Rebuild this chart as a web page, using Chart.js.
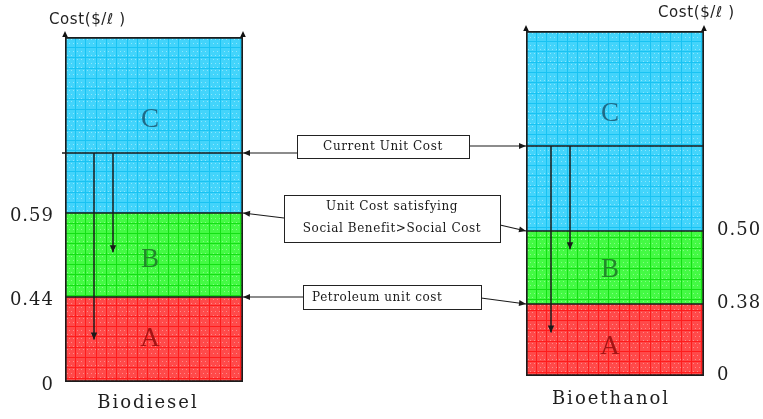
<!DOCTYPE html>
<html>
<head>
<meta charset="utf-8">
<script src="https://cdn.jsdelivr.net/npm/chart.js@4.4.1/dist/chart.umd.min.js"></script>
<style>
  html, body { margin: 0; padding: 0; background: #ffffff; }
  #wrap { position: relative; width: 763px; height: 419px; overflow: hidden; }
  #wrap canvas { position: absolute; left: 0; top: 0; }
</style>
</head>
<body>
<div id="wrap">
  <canvas id="biodiesel" width="763" height="419"></canvas>
  <canvas id="bioethanol" width="763" height="419"></canvas>
</div>
<script>
// ---- Unit cost levels, $ per litre ----
const fuels = ['Biodiesel', 'Bioethanol'];
const petroleumUnitCost = [0.44, 0.38];   // top of segment A
const breakEvenUnitCost = [0.59, 0.50];   // top of segment B (social benefit > social cost)
const currentUnitCost   = [0.90, 0.80];   // current production unit cost (unlabelled)
const axisTopCost       = [1.20, 1.10];   // top of each cost axis
const tickLabelsBiodiesel  = ['0', '0.44', '0.59'];
const tickLabelsBioethanol = ['0', '0.38', '0.50'];
const segmentNames = ['A', 'B', 'C'];
const calloutTexts = [
  ['Current Unit Cost'],
  ['Unit Cost satisfying', 'Social Benefit>Social Cost'],
  ['Petroleum unit cost']
];

// Linear axis whose spacing is stretched piecewise between given levels,
// so a schematic (not-to-scale) cost ladder can still be drawn from values.
class SteppedLinearScale extends Chart.LinearScale {
  _decimalOf(v) {
    const lv = this.options.levels, fr = this.options.fractions;
    if (v <= lv[0]) return fr[0];
    for (let i = 1; i < lv.length; i++) {
      if (v <= lv[i]) {
        return fr[i - 1] + (v - lv[i - 1]) / (lv[i] - lv[i - 1]) * (fr[i] - fr[i - 1]);
      }
    }
    return fr[fr.length - 1];
  }
  getPixelForValue(value) {
    if (value === null || value === undefined || Number.isNaN(+value)) return NaN;
    return this.getPixelForDecimal(this._decimalOf(+value));
  }
  getValueForPixel(pixel) {
    const d = this.getDecimalForPixel(pixel);
    const lv = this.options.levels, fr = this.options.fractions;
    for (let i = 1; i < fr.length; i++) {
      if (d <= fr[i]) return lv[i - 1] + (d - fr[i - 1]) / (fr[i] - fr[i - 1]) * (lv[i] - lv[i - 1]);
    }
    return lv[lv.length - 1];
  }
  drawLabels(area) {
    const ctx = this.ctx;
    const prev = ctx.letterSpacing;
    ctx.letterSpacing = '1px';
    super.drawLabels(area);
    ctx.letterSpacing = prev;
  }
}
SteppedLinearScale.id = 'stepped';
SteppedLinearScale.defaults = {};
Chart.register(SteppedLinearScale);

// Squared grid-paper fill for the bar segments
function gridPattern(fill, line, dot) {
  const c = document.createElement('canvas');
  c.width = 31; c.height = 31;
  const g = c.getContext('2d');
  g.fillStyle = fill;
  g.fillRect(0, 0, 31, 31);
  g.fillStyle = dot;
  for (let y = 2; y < 31; y += 4) {
    for (let x = (y % 8 === 2 ? 2 : 4); x < 31; x += 4) g.fillRect(x, y, 1, 1);
  }
  g.fillStyle = line;
  [0, 10, 20].forEach(p => { g.fillRect(p, 0, 1, 31); g.fillRect(0, p, 31, 1); });
  return g.createPattern(c, 'repeat');
}
const palette = [
  { fill: '#ff4a4a', line: '#ff1c1c', dot: 'rgba(255,190,190,0.55)', text: '#a51414' },
  { fill: '#44fa44', line: '#14e014', dot: 'rgba(190,255,190,0.55)', text: '#22882a' },
  { fill: '#43d4fb', line: '#18c3f3', dot: 'rgba(200,245,255,0.55)', text: '#1f6b88' }
];

function arrowHead(ctx, x, y, angle, len, half) {
  ctx.save();
  ctx.translate(x, y);
  ctx.rotate(angle);
  ctx.beginPath();
  ctx.moveTo(0, 0);
  ctx.lineTo(-len, -half);
  ctx.lineTo(-len, half);
  ctx.closePath();
  ctx.fill();
  ctx.restore();
}
function arrow(ctx, x1, y1, x2, y2, len, half) {
  ctx.beginPath();
  ctx.moveTo(x1, y1);
  ctx.lineTo(x2, y2);
  ctx.stroke();
  arrowHead(ctx, x2, y2, Math.atan2(y2 - y1, x2 - x1), len, half);
}

// Current-cost line, reduction arrows, segment letters, axis arrows and unit label
const costDiagram = {
  id: 'costDiagram',
  beforeDraw(chart) {
    chart.ctx.letterSpacing = '2px';
  },
  beforeDatasetsDraw(chart) {
    const a = chart.chartArea;
    chart.data.datasets.forEach(ds => {
      if (ds.backgroundColor && ds.backgroundColor.setTransform) {
        ds.backgroundColor.setTransform(new DOMMatrix([1, 0, 0, 1, a.left, a.top]));
      }
    });
  },
  afterDatasetsDraw(chart, args, opts) {
    const ctx = chart.ctx, a = chart.chartArea, y = chart.scales.y;
    const f = opts.fuel;
    ctx.save();
    ctx.letterSpacing = '0px';
    ctx.strokeStyle = '#1a1a1a';
    ctx.fillStyle = '#1a1a1a';

    // current unit cost level
    const yc = y.getPixelForValue(currentUnitCost[f]);
    ctx.lineWidth = 1.6;
    ctx.beginPath();
    ctx.moveTo(a.left - opts.lineExtend, yc);
    ctx.lineTo(a.right, yc);
    ctx.stroke();

    // cost reduction arrows dropping from the current level
    ctx.lineWidth = 1.5;
    opts.drops.forEach(d => {
      const x = a.left + d.dx;
      arrow(ctx, x, yc, x, y.getPixelForValue(d.to), 7, 3.2);
    });

    // segment letters
    ctx.textAlign = 'center';
    ctx.textBaseline = 'middle';
    ctx.font = '27px "Liberation Serif"';
    segmentNames.forEach((name, k) => {
      const el = chart.getDatasetMeta(k).data[0];
      const n = opts.letterNudge[k];
      ctx.fillStyle = palette[k].text;
      ctx.fillText(name, el.x + n[0], (el.y + el.base) / 2 + n[1]);
    });

    // upward arrowheads on the two vertical edges
    ctx.fillStyle = '#111';
    [a.left, a.right].forEach(x => arrowHead(ctx, x, a.top - 6, -Math.PI / 2, 6, 2.8));

    // unit label
    ctx.fillStyle = '#222';
    ctx.textAlign = 'left';
    ctx.font = '15px "DejaVu Sans"';
    ctx.letterSpacing = '0.6px';
    ctx.fillText('Cost($/\u2113 )', a.left + opts.titleDx, a.top + opts.titleDy);
    ctx.restore();
  }
};

function makeChart(id, f, cfg) {
  const pats = palette.map(p => gridPattern(p.fill, p.line, p.dot));
  const bounds = [0, petroleumUnitCost[f], breakEvenUnitCost[f], axisTopCost[f]];
  const borders = [
    { left: 2, right: 2, bottom: 2, top: 1 },
    { left: 2, right: 2, bottom: 1, top: 1 },
    { left: 2, right: 2, bottom: 1, top: 2 }
  ];
  const tickLabels = cfg.tickLabels;
  const pluginOpts = {
    legend: { display: false },
    tooltip: { enabled: false },
    costDiagram: cfg.diagram
  };
  if (cfg.callouts) pluginOpts.costCallouts = cfg.callouts;
  return new Chart(document.getElementById(id), {
    type: 'bar',
    data: {
      labels: [fuels[f]],
      datasets: segmentNames.map((name, k) => ({
        label: name,
        data: [[bounds[k], bounds[k + 1]]],
        backgroundColor: pats[k],
        borderColor: '#1c1c1c',
        borderWidth: borders[k],
        borderSkipped: false,
        barPercentage: 1,
        categoryPercentage: 1
      }))
    },
    options: {
      responsive: false,
      animation: false,
      devicePixelRatio: 1,
      events: [],
      layout: { padding: cfg.padding },
      scales: {
        x: {
          stacked: true,
          offset: true,
          grid: { display: false, drawTicks: false },
          border: { display: false },
          ticks: {
            color: '#1f1f1f',
            font: { family: 'DejaVu Serif', size: 18 },
            padding: cfg.xPad,
            labelOffset: cfg.xLabelOffset
          },
          afterFit: s => { s.height = cfg.xHeight; }
        },
        y: {
          type: 'stepped',
          position: cfg.yPos,
          min: 0,
          max: axisTopCost[f],
          levels: [0, petroleumUnitCost[f], breakEvenUnitCost[f], currentUnitCost[f], axisTopCost[f]],
          fractions: cfg.fractions,
          grid: { display: false, drawTicks: false },
          border: { display: false },
          afterBuildTicks: s => {
            s.ticks = [0, petroleumUnitCost[f], breakEvenUnitCost[f]].map(v => ({ value: v }));
          },
          afterFit: s => { s.width = cfg.yWidth; },
          ticks: {
            autoSkip: false,
            color: '#1f1f1f',
            font: { family: 'DejaVu Serif', size: 18 },
            padding: cfg.yPad,
            labelOffset: cfg.yLabelOffset,
            callback: (v, i) => tickLabels[i]
          }
        }
      },
      plugins: pluginOpts
    },
    plugins: [costDiagram].concat(cfg.extraPlugins || [])
  });
}

const biodieselChart = makeChart('biodiesel', 0, {
  padding: { left: 0, right: 520, top: 37, bottom: 0 },
  yPos: 'left', yWidth: 65, yPad: 11, yLabelOffset: 3,
  xHeight: 37, xPad: 11, xLabelOffset: -6,
  fractions: [0, 0.2464, 0.4899, 0.6638, 1],
  tickLabels: tickLabelsBiodiesel,
  diagram: {
    fuel: 0, lineExtend: 3,
    drops: [{ dx: 29, to: 0.22 }, { dx: 48, to: 0.52 }],
    letterNudge: [[-4, -1], [-4, 5], [-4, -5]],
    titleDx: -16, titleDy: -17
  }
});

// Callout boxes with connectors to the matching level on both axes
const costCallouts = {
  id: 'costCallouts',
  afterDraw(chart, args, opts) {
    const ctx = chart.ctx;
    const left = biodieselChart, right = chart;
    const lx = left.chartArea.right, rx = right.chartArea.left;
    const ly = v => left.scales.y.getPixelForValue(v);
    const ry = v => right.scales.y.getPixelForValue(v);
    const levels = [currentUnitCost, breakEvenUnitCost, petroleumUnitCost];
    ctx.save();
    opts.boxes.forEach((b, i) => {
      const yL = ly(levels[i][0]), yR = ry(levels[i][1]);
      ctx.strokeStyle = '#1a1a1a';
      ctx.fillStyle = '#1a1a1a';
      ctx.lineWidth = 1.2;
      ctx.letterSpacing = '0px';
      arrow(ctx, b.x, b.la === null ? yL : b.y + b.la, lx, yL, 7, 3);
      arrow(ctx, b.x + b.w, b.ra === null ? yR : b.y + b.ra, rx, yR, 7, 3);
      ctx.fillStyle = '#ffffff';
      ctx.fillRect(b.x, b.y, b.w, b.h);
      ctx.lineWidth = 1;
      ctx.strokeStyle = '#222';
      ctx.strokeRect(b.x + 0.5, b.y + 0.5, b.w, b.h);
      ctx.fillStyle = '#1a1a1a';
      ctx.font = '12px "DejaVu Serif"';
      ctx.letterSpacing = '0.6px';
      ctx.textBaseline = 'middle';
      ctx.textAlign = b.align;
      calloutTexts[i].forEach((t, j) => {
        const tx = b.align === 'center' ? b.x + b.w / 2 : b.x + 9;
        ctx.fillText(t, tx, b.y + b.ty[j]);
      });
    });
    ctx.restore();
  }
};

const bioethanolChart = makeChart('bioethanol', 1, {
  padding: { left: 526, right: 0, top: 31, bottom: 0 },
  yPos: 'right', yWidth: 59, yPad: 13, yLabelOffset: -1,
  xHeight: 43, xPad: 13, xLabelOffset: -4,
  fractions: [0, 0.2087, 0.4203, 0.6667, 1],
  tickLabels: tickLabelsBioethanol,
  diagram: {
    fuel: 1, lineExtend: 0,
    drops: [{ dx: 25, to: 0.23 }, { dx: 44, to: 0.47 }],
    letterNudge: [[-5, 7], [-5, 2], [-5, -17]],
    titleDx: 132, titleDy: -17.5
  },
  callouts: {
    boxes: [
      { x: 297, y: 135, w: 172, h: 23, la: null, ra: null, align: 'center', ty: [11.5] },
      { x: 284, y: 195, w: 216, h: 47, la: 23, ra: 30, align: 'center', ty: [11.7, 34] },
      { x: 303, y: 285, w: 178, h: 24, la: 12, ra: 13, align: 'left', ty: [12.5] }
    ]
  },
  extraPlugins: [costCallouts]
});
</script>
</body>
</html>
